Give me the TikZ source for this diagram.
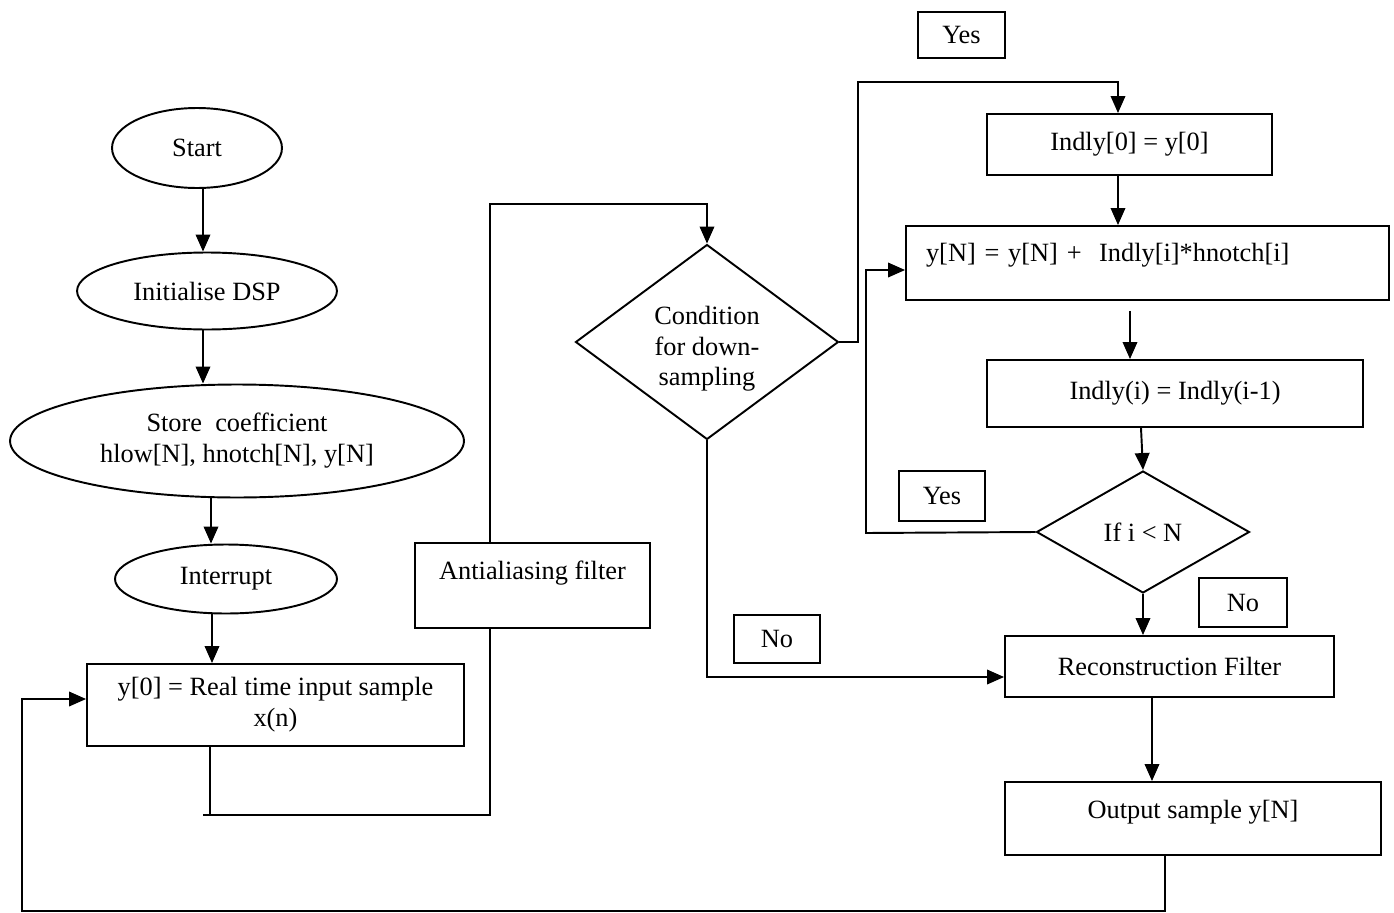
\documentclass[tikz,border=0pt]{standalone}
\usepackage{fontspec}
\setmainfont{Liberation Serif}
\usetikzlibrary{shapes.geometric}
\usetikzlibrary{arrows.meta}

\begin{document}
\begin{tikzpicture}[x=0.02cm,y=-0.02cm,% pixel units
line width=1.1pt,
font=\fontsize{15}{17.6}\selectfont,
oval/.style={ellipse,draw,inner sep=0pt,align=center},
blk/.style={rectangle,draw,fill=white,inner sep=0pt,align=center},
tag/.style={rectangle,draw,fill=white,inner sep=0pt},
ask/.style={diamond,draw,fill=white,inner sep=0pt,align=center},
arr/.style={-{Triangle[length=0.34cm,width=0.29cm]}}]
\useasboundingbox (0,0) rectangle (1394,913);
\node[oval,minimum width=3.4cm,minimum height=1.6cm] (start) at (197,148) {Start};
\node[oval,minimum width=5.2cm,minimum height=1.54cm] (init) at (207,291) {Initialise DSP};
\node[oval,minimum width=9.08cm,minimum height=2.26cm] (store) at (237,441) {Store~ coefficient\\hlow[N], hnotch[N], y[N]};
\node[oval,minimum width=4.44cm,minimum height=1.38cm] (intr) at (226,579) {Interrupt};
\node[blk,minimum width=7.54cm,minimum height=1.64cm] (inp) at (275.5,705) {y[0] = Real time input sample\\x(n)};
\node[ask,minimum width=5.26cm,minimum height=3.9cm] (cond) at (707,342)
  {\raisebox{-0.88cm}[0pt][0pt]{\begin{tabular}[b]{@{}c@{}}Condition\\for down-\\sampling\end{tabular}}};
\node[blk,minimum width=5.7cm,minimum height=1.22cm] (ind0) at (1129.5,144.5) {Indly[0] = y[0]};
\node[blk,text width=8.86cm,inner xsep=0.4cm,align=left,text height=0.7cm,text depth=0.78cm] (yN) at (1147.5,263) {y[N] = y[N] + ~Indly[i]*hnotch[i]};
\node[blk,minimum width=7.52cm,minimum height=1.34cm] (indi) at (1175,393.5) {Indly(i) = Indly(i-1)};
\node[ask,shape aspect=1.75,minimum width=4.26cm,minimum height=2.44cm] (ifn) at (1143,532) {If i < N};
\node[blk,minimum width=6.58cm,minimum height=1.22cm] (rec) at (1169.5,666.5) {Reconstruction Filter};
\node[blk,minimum width=7.52cm,text height=0.72cm,text depth=0.74cm] (out) at (1193,818.5) {Output sample y[N]};

\draw[arr] (203,0 |- start.south) -- (203,0 |- init.north);
\draw[arr] (203,0 |- init.south) -- (203,0 |- store.north);
\draw[arr] (211,0 |- store.south) -- (211,0 |- intr.north);
\draw[arr] (212,0 |- intr.south) -- (212,0 |- inp.north);
\draw[arr] (210,0 |- inp.south) -- (210,815) -- (203,815) -- (490,815) -- (490,204) -- (707,204) -- (cond.north);
\draw[arr] (cond.east) -- (858,342) -- (858,82) -- (1118,82) -- (1118,0 |- ind0.north);
\draw[arr] (1118,0 |- ind0.south) -- (1118,0 |- yN.north);
\draw[arr,shorten <=0.2cm] (1130,0 |- yN.south) -- (1130,0 |- indi.north);
\draw[arr] (1141,0 |- indi.south) -- (ifn.north);
\draw[arr] (ifn.west) -- (866,533) -- (866,270) -- (yN.west |- 0,270);
\draw[arr] (ifn.south) -- (1143,0 |- rec.north);
\draw[arr] (cond.south) |- (rec.west |- 0,677);
\draw[arr] (1152,0 |- rec.south) -- (1152,0 |- out.north);
\draw[arr] (1165,0 |- out.south) -- (1165,911) -- (22,911) -- (22,699) -- (inp.west |- 0,699);

\node[blk,minimum width=4.7cm,text height=0.72cm,text depth=0.98cm] (anti) at (532.5,585.5) {Antialiasing filter};
\node[tag,minimum width=1.74cm,minimum height=0.92cm] (yes1) at (961.5,35) {Yes};
\node[tag,minimum width=1.72cm,minimum height=1cm] (yes2) at (942,496) {Yes};
\node[tag,minimum width=1.76cm,minimum height=0.98cm] (no1) at (1243,602.5) {No};
\node[tag,minimum width=1.72cm,minimum height=0.96cm] (no2) at (777,639) {No};
\end{tikzpicture}
\end{document}
